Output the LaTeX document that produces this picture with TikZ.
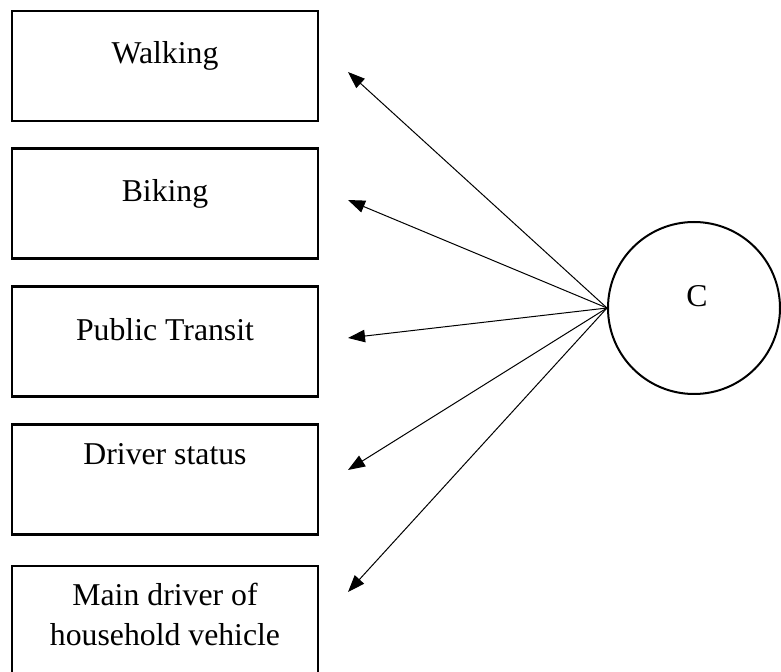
\documentclass[tikz,border=0pt]{standalone}
\usepackage{fontspec}
\setmainfont{Liberation Serif}
\usetikzlibrary{positioning, arrows.meta}

\begin{document}
\begin{tikzpicture}[
    x=0.4pt, y=-0.4pt,
    >={Triangle[length=6.8pt, width=5pt]},
    % Styles
    indicator/.style={
        draw, rectangle, line width=1pt,
        minimum width=122.4pt, minimum height=44pt,
        inner sep=0pt
    },
    ind_text/.style={font=\fontsize{12.7}{16}\selectfont, align=center, anchor=base},
    factor/.style={
        draw, circle, line width=0.8pt,
        minimum size=68.8pt, inner sep=0pt
    },
    path_line/.style={->, line width=0.4pt}
  ]

    \useasboundingbox (0,0) rectangle (781,672);

    % --- Indicator boxes ---
    \node (walk)    [indicator] at (165,66) {};
    \node (bike)    [indicator] at (165,203.5) {};
    \node (transit) [indicator] at (165,341.5) {};
    \node (driver)  [indicator] at (165,479.5) {};
    \node (main)    [indicator] at (165,621) {};

    % --- Box labels ---
    \node[ind_text] (walk_lbl)    at ([yshift=-21.6pt]walk.north) {Walking};
    \node[ind_text] (bike_lbl)    at ([yshift=-21.6pt]bike.north) {Biking};
    \node[ind_text] (transit_lbl) at ([yshift=-22pt]transit.north) {Public Transit};
    \node[ind_text] (driver_lbl)  at ([yshift=-16.4pt]driver.north) {Driver status};
    \node[ind_text] (main_lbl)    at ([yshift=-32.4pt]main.north) {Main driver of\\household vehicle};

    % --- Latent factor ---
    \node (C) [factor] at (694,308) {};
    \node[ind_text] (c_lbl) at ([xshift=1.2pt, yshift=0.4pt]C.center) {C};

    % --- Arrow tips ---
    \coordinate (walk_tip)    at (348,72);
    \coordinate (bike_tip)    at (348,200);
    \coordinate (transit_tip) at (348,338);
    \coordinate (driver_tip)  at (348,470);
    \coordinate (main_tip)    at (348,592);

    % --- Loadings ---
    \foreach \t in {walk_tip, bike_tip, transit_tip, driver_tip, main_tip}
        \draw[path_line] (C.west) -- (\t);

  \end{tikzpicture}
\end{document}
